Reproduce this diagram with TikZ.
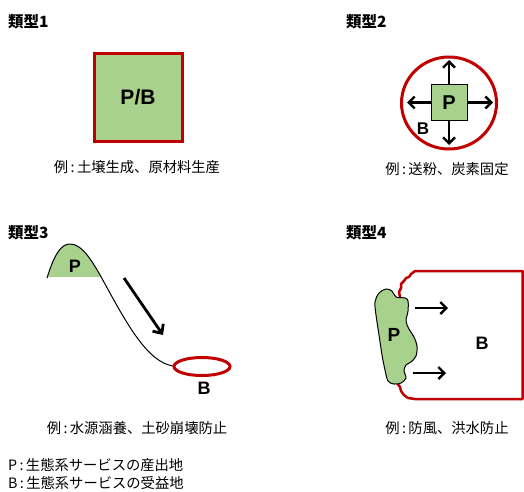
\documentclass[tikz,border=0pt]{standalone}
\usepackage{fontspec}
\setmainfont{Liberation Sans}
\newfontfamily\jp{Noto Sans CJK JP}
\usetikzlibrary{arrows.meta}
\definecolor{leaf}{HTML}{A9D18E}
\definecolor{edge}{HTML}{C00000}
\newcommand{\colonsep}{\,:\,}
\tikzset{
  heading/.style={anchor=west, inner sep=0pt, font=\jp\bfseries\fontsize{15.5}{17}\selectfont},
  caption/.style={inner sep=0pt, font=\jp\fontsize{14.3}{16}\selectfont},
  legend/.style={anchor=west, inner sep=0pt, font=\jp\fontsize{14.3}{16}\selectfont},
  letter/.style={inner sep=0pt, font=\bfseries\fontsize{18}{20}\selectfont},
  flow/.style={line width=2.4pt, -{Straight Barb[length=6pt,width=12pt,line width=2.4pt]}},
  bigflow/.style={line width=2.8pt, -{Straight Barb[length=7pt,width=13pt,line width=2.8pt]}},
}
\begin{document}
\begin{tikzpicture}[x=1pt,y=-1pt]
\useasboundingbox (0,0) rectangle (524,491);

% ---- 類型1 ----
\node[heading] (h1) at (8,22) {類型1};
\node[draw=edge, line width=3pt, fill=leaf, minimum size=88pt, inner sep=0pt,
      font=\bfseries\fontsize{21}{22}\selectfont] (pb) at (138,97.5) {P/B};
\node[caption] (c1) at (137,167) {例\colonsep 土壌生成、原材料生産};

% ---- 類型2 ----
\node[heading] (h2) at (346,22) {類型2};
\draw[edge, line width=3pt] (449,103) circle[x radius=47.5, y radius=46];
\node[draw, line width=0.8pt, fill=leaf, minimum size=36pt, inner sep=0pt,
      font=\bfseries\fontsize{20}{22}\selectfont] (p2) at (449,102.5) {P};
\coordinate (p2n) at (449,60);
\coordinate (p2s) at (449,145);
\coordinate (p2w) at (407,102.5);
\coordinate (p2e) at (493,102.5);
\draw[flow] (p2.north) -- (p2n);
\draw[flow] (p2.south) -- (p2s);
\draw[flow] (p2.west) -- (p2w);
\draw[flow] (p2.east) -- (p2e);
\node[letter, font=\bfseries\fontsize{17}{20}\selectfont] (b2) at (423,129) {B};
\node[caption] (c2) at (447,169) {例\colonsep 送粉、炭素固定};

% ---- 類型3 ----
\node[heading] (h3) at (8,233) {類型3};
\begin{scope}
  \clip (0,200) rectangle (300,276);
  \fill[leaf] (47,278) .. controls (55,252) and (62,244) .. (70,244)
     .. controls (82,244) and (92,260) .. (105,284) -- cycle;
\end{scope}
\draw[line width=1pt] (47,278) .. controls (55,252) and (62,244) .. (70,244)
   .. controls (82,244) and (92,260) .. (105,284)
   .. controls (128,326) and (148,362) .. (173,366);
\draw[edge, line width=3pt] (202,366.5) ellipse[x radius=28, y radius=9];
\node[letter] (p3) at (75,266) {P};
\node[letter] (b3) at (204,388) {B};
\coordinate (a3s) at (124,278);
\coordinate (a3e) at (163,335);
\draw[bigflow] (a3s) -- (a3e);
\node[caption] (c3) at (137,428) {例\colonsep 水源涵養、土砂崩壊防止};

% ---- 類型4 ----
\node[heading] (h4) at (346,233) {類型4};
\draw[edge, line width=2.5pt, line join=round]
  (400,297) -- (399,292) -- (401,288) -- (401,284) -- (404,281) -- (406,278)
  -- (409,277) -- (411,274) -- (415,271) -- (522.5,271) -- (522.5,399)
  -- (415,399) -- (408,398) -- (404,395) -- (401,391) -- (400,387) -- (397,383);
\draw[fill=leaf, line width=1pt] plot[smooth cycle, tension=0.55] coordinates {
  (386,289) (392,291) (396,297) (405,298) (408,301) (408,311) (406,321)
  (409,329) (414,337) (417,346) (416,356) (411,362) (406,365) (404,371)
  (406,378) (401,383) (394,384) (388,381) (385,370) (382,355) (379,335)
  (376,315) (375,302) (379,293)};
\node[letter, font=\bfseries\fontsize{19}{20}\selectfont] (p4) at (394,335) {P};
\node[letter] (b4) at (482,343) {B};
\coordinate (a4s) at (415,308);
\coordinate (a4e) at (448,308);
\coordinate (a5s) at (413,373);
\coordinate (a5e) at (446,373);
\draw[flow] (a4s) -- (a4e);
\draw[flow] (a5s) -- (a5e);
\node[caption] (c4) at (447,428) {例\colonsep 防風、洪水防止};

% ---- legend ----
\node[legend] (l1) at (8,465) {P\colonsep 生態系サービスの産出地};
\node[legend] (l2) at (8,483) {B\colonsep 生態系サービスの受益地};
\end{tikzpicture}
\end{document}
